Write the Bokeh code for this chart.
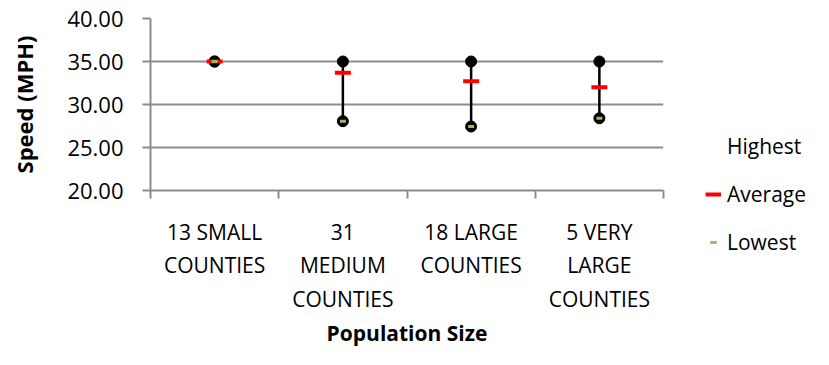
from bokeh.plotting import figure
from bokeh.models import FixedTicker, Legend, LegendItem, Range1d, ColumnDataSource, NumeralTickFormatter
from bokeh.layouts import row
from bokeh.embed import file_html
from bokeh.resources import INLINE

categories = ["13 SMALL\nCOUNTIES", "31\nMEDIUM\nCOUNTIES", "18 LARGE\nCOUNTIES", "5 VERY\nLARGE\nCOUNTIES"]
highest = [35.0, 35.0, 35.0, 35.0]
average = [35.0, 33.68, 32.71, 32.02]
lowest = [35.0, 28.06, 27.44, 28.40]
y_ticks = [20, 25, 30, 35, 40]
series_names = ["Highest", "Average", "Lowest"]

pos = [i + 0.5 for i in range(len(categories))]
src = ColumnDataSource(dict(x=pos, hi=highest, avg=average, lo=lowest))

FONT = "Open Sans"
GREY = "#8c8c8c"
RED = "#ff0000"
GREEN = "#9bbb59"

p = figure(width=680, height=365, output_backend="svg", toolbar_location=None,
           x_range=Range1d(0, len(categories)), y_range=Range1d(20, 40),
           min_border_left=150, min_border_right=17, min_border_top=18, min_border_bottom=175)
p.outline_line_color = None
p.background_fill_color = "white"
p.frame_align = False

# x axis: ticks at category boundaries, labels at centres
p.xaxis.ticker = FixedTicker(ticks=pos, minor_ticks=list(range(len(categories) + 1)))
p.xaxis.major_label_overrides = {pv: c for pv, c in zip(pos, categories)}
p.xaxis.major_tick_out = 0
p.xaxis.major_tick_in = 0
p.xaxis.minor_tick_out = 8
p.xaxis.minor_tick_in = 0
p.xaxis.minor_tick_line_color = GREY
p.xaxis.minor_tick_line_width = 2
p.xaxis.axis_line_color = GREY
p.xaxis.axis_line_width = 2
p.xaxis.major_label_text_font = FONT
p.xaxis.major_label_text_font_size = "21px"
p.xaxis.major_label_text_color = "black"
p.xaxis.major_label_text_line_height = 1.21
p.xaxis.major_label_standoff = 19
p.xaxis.axis_label = "Population Size"
p.xaxis.axis_label_text_font = FONT
p.xaxis.axis_label_text_font_size = "21px"
p.xaxis.axis_label_text_font_style = "bold"
p.xaxis.axis_label_text_color = "black"
p.xaxis.axis_label_standoff = 3

p.yaxis.ticker = FixedTicker(ticks=y_ticks)
p.yaxis.formatter = NumeralTickFormatter(format="0.00")
p.yaxis.major_tick_out = 8
p.yaxis.major_tick_in = 0
p.yaxis.major_tick_line_color = GREY
p.yaxis.major_tick_line_width = 2
p.yaxis.minor_tick_line_color = None
p.yaxis.axis_line_color = GREY
p.yaxis.axis_line_width = 2
p.yaxis.major_label_text_font = FONT
p.yaxis.major_label_text_font_size = "22px"
p.yaxis.major_label_text_color = "black"
p.yaxis.major_label_standoff = 19
p.yaxis.axis_label = "Speed (MPH)"
p.yaxis.axis_label_text_font = FONT
p.yaxis.axis_label_text_font_size = "22px"
p.yaxis.axis_label_text_font_style = "bold"
p.yaxis.axis_label_text_color = "black"
p.yaxis.axis_label_standoff = 25

p.xgrid.grid_line_color = None
p.ygrid.ticker = FixedTicker(ticks=y_ticks[1:])
p.ygrid.grid_line_color = GREY
p.ygrid.grid_line_width = 2

# high-low lines and markers
p.segment(x0="x", y0="hi", x1="x", y1="lo", source=src, line_color="black", line_width=2.5)
p.scatter(x="x", y="hi", source=src, size=11, marker="circle", fill_color="black", line_color="black")
p.scatter(x="x", y="lo", source=src, size=11, marker="circle", fill_color="black", line_color="black")
p.scatter(x="x", y="avg", source=src, size=16, marker="dash", line_color=RED, line_width=4)
p.scatter(x="x", y="lo", source=src, size=6, marker="dash", line_color=GREEN, line_width=3)

# legend panel
q = figure(width=149, height=365, output_backend="svg", toolbar_location=None,
           x_range=Range1d(0, 1), y_range=Range1d(0, 1),
           min_border_left=0, min_border_right=0, min_border_top=0, min_border_bottom=0)
q.frame_align = False
q.axis.visible = False
q.grid.visible = False
q.outline_line_color = None
lsrc = ColumnDataSource(dict(x=[float("nan")], y=[float("nan")]))
hi_r = q.scatter(x="x", y="y", source=lsrc, size=1, fill_alpha=0, line_alpha=0)
avg_r = q.line(x="x", y="y", source=lsrc, line_color=RED, line_width=4)
lo_r = q.scatter(x="x", y="y", source=lsrc, size=6, marker="dash", line_color=GREEN, line_width=3)
legend = Legend(items=[LegendItem(label=n, renderers=[r]) for n, r in zip(series_names, [hi_r, avg_r, lo_r])],
                location=(25, 109))
legend.label_text_font = FONT
legend.label_text_font_size = "21px"
legend.label_text_color = "black"
legend.spacing = 20
legend.glyph_width = 16
legend.glyph_height = 16
legend.label_standoff = 6
legend.border_line_color = None
legend.background_fill_alpha = 0
legend.padding = 0
legend.margin = 0
q.add_layout(legend, "center")

layout = row(p, q, spacing=0)
open("out.html", "w").write(file_html(layout, INLINE))
